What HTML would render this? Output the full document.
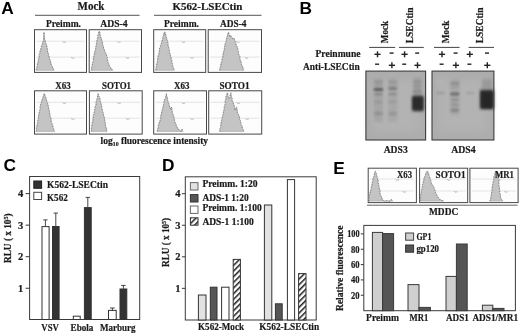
<!DOCTYPE html>
<html><head><meta charset="utf-8"><title>Figure</title>
<style>
html,body{margin:0;padding:0;background:#fff;}
body{width:520px;height:334px;overflow:hidden;font-family:"Liberation Serif",serif;}
svg{display:block;filter:blur(0.3px);}
.ls{font-family:"Liberation Serif",serif;stroke:#222;stroke-width:0.22px;}
.lsans{font-family:"Liberation Sans",sans-serif;}
</style></head><body>
<svg width="520" height="334" viewBox="0 0 520 334">
<defs>
<pattern id="hatch" width="4" height="4" patternUnits="userSpaceOnUse" patternTransform="rotate(-45)">
<rect width="4" height="4" fill="#fff"/><rect width="4" height="1.5" fill="#1c1c1c"/>
</pattern>
<filter id="b1" x="-50%" y="-50%" width="200%" height="200%"><feGaussianBlur stdDeviation="1.1"/></filter>
<filter id="b2" x="-50%" y="-50%" width="200%" height="200%"><feGaussianBlur stdDeviation="1.6"/></filter>
<filter id="b4" x="-50%" y="-50%" width="200%" height="200%"><feGaussianBlur stdDeviation="5"/></filter>
<filter id="b3" x="-50%" y="-50%" width="200%" height="200%"><feGaussianBlur stdDeviation="0.8"/></filter>
</defs>
<rect width="520" height="334" fill="#fff"/>

<!-- Panel A -->
<text class="lsans" x="1.2" y="14.2" font-size="17.3" font-weight="bold" text-anchor="start" fill="#000">A</text>
<text class="ls" x="77.6" y="9.6" font-size="11.5" font-weight="bold" text-anchor="start" fill="#1a1a1a" textLength="26.8" lengthAdjust="spacingAndGlyphs">Mock</text>
<line x1="35" y1="15.3" x2="139.6" y2="15.3" stroke="#555" stroke-width="1"/>
<text class="ls" x="172.4" y="9.6" font-size="11.2" font-weight="bold" text-anchor="start" fill="#1a1a1a" textLength="70" lengthAdjust="spacingAndGlyphs">K562-LSECtin</text>
<line x1="154" y1="15.3" x2="261.5" y2="15.3" stroke="#555" stroke-width="1"/>
<text class="ls" x="46" y="27" font-size="10.5" font-weight="bold" text-anchor="start" fill="#1a1a1a" textLength="35" lengthAdjust="spacingAndGlyphs">Preimm.</text>
<text class="ls" x="100.2" y="27" font-size="10.5" font-weight="bold" text-anchor="start" fill="#1a1a1a" textLength="27.4" lengthAdjust="spacingAndGlyphs">ADS-4</text>
<text class="ls" x="164" y="27" font-size="10.5" font-weight="bold" text-anchor="start" fill="#1a1a1a" textLength="35" lengthAdjust="spacingAndGlyphs">Preimm.</text>
<text class="ls" x="220" y="27" font-size="10.5" font-weight="bold" text-anchor="start" fill="#1a1a1a" textLength="26.5" lengthAdjust="spacingAndGlyphs">ADS-4</text>
<text class="ls" x="55.2" y="89" font-size="10.5" font-weight="bold" text-anchor="start" fill="#1a1a1a" textLength="15.5" lengthAdjust="spacingAndGlyphs">X63</text>
<text class="ls" x="102" y="89" font-size="10.5" font-weight="bold" text-anchor="start" fill="#1a1a1a" textLength="29" lengthAdjust="spacingAndGlyphs">SOTO1</text>
<text class="ls" x="174" y="89" font-size="10.5" font-weight="bold" text-anchor="start" fill="#1a1a1a" textLength="15.5" lengthAdjust="spacingAndGlyphs">X63</text>
<text class="ls" x="219.5" y="89" font-size="10.5" font-weight="bold" text-anchor="start" fill="#1a1a1a" textLength="30" lengthAdjust="spacingAndGlyphs">SOTO1</text>
<rect x="34.5" y="29.7" width="52" height="42.7" fill="#fdfdfd" stroke="#484848" stroke-width="1"/>
<line x1="36.5" y1="41.2" x2="84.5" y2="41.2" stroke="#dedede" stroke-width="0.8"/>
<line x1="36.5" y1="57.099999999999994" x2="84.5" y2="57.099999999999994" stroke="#dedede" stroke-width="0.8"/>
<path d="M62.49999999999999,41.400000000000006 l1.2,1 l1.2,-0.3 l1,0" fill="none" stroke="#b0b0b0" stroke-width="0.9"/>
<path d="M71.10000000000001,57.3 l1.2,1 l1.2,-0.3 l1,0" fill="none" stroke="#b0b0b0" stroke-width="0.9"/>
<polygon points="36.2,70.3 36.21,69.61 36.87,67.88 36.95,67.02 37.2,66.0 37.49,65.38 37.31,63.61 37.99,63.13 38.13,61.72 38.11,61.58 38.15,60.89 38.79,58.95 38.4,58.58 38.9,57.6 39.4,56.51 39.13,55.59 39.22,54.41 39.7,53.76 39.77,52.5 39.97,51.8 40.23,50.35 40.8,49.98 40.88,48.61 41.0,48.0 41.58,47.53 41.25,46.08 41.9,45.63 42.29,44.45 42.47,43.85 42.5,42.8 42.74,41.83 43.49,41.05 43.6,39.6 43.65,38.77 43.39,37.47 43.95,36.73 43.58,35.95 43.98,35.17 43.82,33.98 43.96,33.43 44.0,32.2 44.09,33.01 44.14,33.53 43.92,35.2 44.62,36.0 44.3,36.46 44.45,38.28 44.7,38.72 44.6,39.6 45.2,40.37 45.34,42.23 45.7,42.8 46.01,43.8 46.07,44.93 46.78,45.38 46.93,47.31 47.0,48.0 47.45,49.16 47.6,49.82 47.64,50.62 47.51,52.01 48.05,52.17 48.2,53.4 48.45,54.28 48.59,55.03 48.95,56.24 49.25,56.95 49.1,57.6 49.44,58.89 49.9,59.7 50.42,61.03 50.66,62.05 50.59,63.08 51.15,63.24 51.0,64.17 51.6,65.7 52.29,66.34 52.38,67.68 53.06,67.99 53.46,69.41 54.2,70.3" fill="#c4c4c4" stroke="#a2a2a2" stroke-width="0.6" stroke-linejoin="round"/>
<polyline points="36.2,70.3 36.21,69.61 36.87,67.88 36.95,67.02 37.2,66.0 37.49,65.38 37.31,63.61 37.99,63.13 38.13,61.72 38.11,61.58 38.15,60.89 38.79,58.95 38.4,58.58 38.9,57.6 39.4,56.51 39.13,55.59 39.22,54.41 39.7,53.76 39.77,52.5 39.97,51.8 40.23,50.35 40.8,49.98 40.88,48.61 41.0,48.0 41.58,47.53 41.25,46.08 41.9,45.63 42.29,44.45 42.47,43.85 42.5,42.8 42.74,41.83 43.49,41.05 43.6,39.6 43.65,38.77 43.39,37.47 43.95,36.73 43.58,35.95 43.98,35.17 43.82,33.98 43.96,33.43 44.0,32.2 44.09,33.01 44.14,33.53 43.92,35.2 44.62,36.0 44.3,36.46 44.45,38.28 44.7,38.72 44.6,39.6 45.2,40.37 45.34,42.23 45.7,42.8 46.01,43.8 46.07,44.93 46.78,45.38 46.93,47.31 47.0,48.0 47.45,49.16 47.6,49.82 47.64,50.62 47.51,52.01 48.05,52.17 48.2,53.4 48.45,54.28 48.59,55.03 48.95,56.24 49.25,56.95 49.1,57.6 49.44,58.89 49.9,59.7 50.42,61.03 50.66,62.05 50.59,63.08 51.15,63.24 51.0,64.17 51.6,65.7 52.29,66.34 52.38,67.68 53.06,67.99 53.46,69.41 54.2,70.3" fill="none" stroke="#6e6e6e" stroke-width="0.7" stroke-dasharray="1.3 1.5" stroke-linejoin="round"/>
<rect x="89.2" y="29.7" width="52.3" height="42.7" fill="#fdfdfd" stroke="#484848" stroke-width="1"/>
<line x1="91.2" y1="41.2" x2="139.5" y2="41.2" stroke="#dedede" stroke-width="0.8"/>
<line x1="91.2" y1="57.099999999999994" x2="139.5" y2="57.099999999999994" stroke="#dedede" stroke-width="0.8"/>
<path d="M117.20000000000002,41.400000000000006 l1.2,1 l1.2,-0.3 l1,0" fill="none" stroke="#b0b0b0" stroke-width="0.9"/>
<path d="M125.80000000000001,57.3 l1.2,1 l1.2,-0.3 l1,0" fill="none" stroke="#b0b0b0" stroke-width="0.9"/>
<polygon points="91.2,70.3 91.7,69.73 91.31,67.72 92.02,67.38 92.11,65.85 92.2,65.0 92.46,64.18 92.63,62.76 92.72,62.08 93.1,61.81 93.44,60.38 93.3,59.15 93.22,57.95 93.69,57.33 93.9,56.6 94.01,56.07 94.3,54.75 94.3,53.2 94.54,52.36 94.86,52.35 95.16,50.49 95.49,50.21 95.57,49.37 95.78,48.28 95.8,47.0 95.87,46.6 96.44,44.76 96.47,44.44 96.44,43.3 96.63,42.8 96.8,41.76 96.87,40.89 97.4,39.49 97.3,38.6 97.56,38.08 97.88,36.62 97.77,35.46 98.3,34.3 98.65,33.43 98.6,32.7 99.2,31.2 99.75,32.04 100.05,33.53 100.03,34.37 100.3,35.4 100.63,36.38 100.64,36.85 101.01,38.53 101.31,38.47 101.68,40.07 101.7,40.7 102.21,41.26 102.35,42.01 102.53,43.15 102.49,44.71 102.65,45.22 103.39,45.82 103.4,47.0 103.58,48.33 104.09,49.07 104.21,49.59 104.67,50.85 104.98,52.07 105.32,52.74 106.0,53.4 105.9,54.03 106.64,54.82 106.43,56.31 106.78,56.5 107.39,57.52 106.98,58.63 107.5,59.7 107.82,60.87 107.73,61.32 107.92,62.34 108.65,63.56 108.98,64.48 109.2,65.33 109.2,66.0 109.8,66.56 110.55,67.52 110.8,68.52 111.93,69.03 112.3,70.3" fill="#c4c4c4" stroke="#a2a2a2" stroke-width="0.6" stroke-linejoin="round"/>
<polyline points="91.2,70.3 91.7,69.73 91.31,67.72 92.02,67.38 92.11,65.85 92.2,65.0 92.46,64.18 92.63,62.76 92.72,62.08 93.1,61.81 93.44,60.38 93.3,59.15 93.22,57.95 93.69,57.33 93.9,56.6 94.01,56.07 94.3,54.75 94.3,53.2 94.54,52.36 94.86,52.35 95.16,50.49 95.49,50.21 95.57,49.37 95.78,48.28 95.8,47.0 95.87,46.6 96.44,44.76 96.47,44.44 96.44,43.3 96.63,42.8 96.8,41.76 96.87,40.89 97.4,39.49 97.3,38.6 97.56,38.08 97.88,36.62 97.77,35.46 98.3,34.3 98.65,33.43 98.6,32.7 99.2,31.2 99.75,32.04 100.05,33.53 100.03,34.37 100.3,35.4 100.63,36.38 100.64,36.85 101.01,38.53 101.31,38.47 101.68,40.07 101.7,40.7 102.21,41.26 102.35,42.01 102.53,43.15 102.49,44.71 102.65,45.22 103.39,45.82 103.4,47.0 103.58,48.33 104.09,49.07 104.21,49.59 104.67,50.85 104.98,52.07 105.32,52.74 106.0,53.4 105.9,54.03 106.64,54.82 106.43,56.31 106.78,56.5 107.39,57.52 106.98,58.63 107.5,59.7 107.82,60.87 107.73,61.32 107.92,62.34 108.65,63.56 108.98,64.48 109.2,65.33 109.2,66.0 109.8,66.56 110.55,67.52 110.8,68.52 111.93,69.03 112.3,70.3" fill="none" stroke="#6e6e6e" stroke-width="0.7" stroke-dasharray="1.3 1.5" stroke-linejoin="round"/>
<rect x="153.7" y="29.7" width="52" height="42.7" fill="#fdfdfd" stroke="#484848" stroke-width="1"/>
<line x1="155.7" y1="41.2" x2="203.7" y2="41.2" stroke="#dedede" stroke-width="0.8"/>
<line x1="155.7" y1="57.099999999999994" x2="203.7" y2="57.099999999999994" stroke="#dedede" stroke-width="0.8"/>
<path d="M181.7,41.400000000000006 l1.2,1 l1.2,-0.3 l1,0" fill="none" stroke="#b0b0b0" stroke-width="0.9"/>
<path d="M190.29999999999998,57.3 l1.2,1 l1.2,-0.3 l1,0" fill="none" stroke="#b0b0b0" stroke-width="0.9"/>
<polygon points="155.8,70.3 155.81,69.29 156.07,68.29 156.42,66.64 156.2,66.43 156.7,65.0 156.69,63.78 157.33,63.12 157.37,62.2 157.39,60.92 157.54,60.78 157.62,59.72 157.86,58.05 157.9,57.6 158.26,56.77 158.15,55.22 158.71,54.77 158.8,54.28 158.99,53.4 158.96,52.33 159.19,51.55 159.66,49.69 159.6,49.2 159.63,47.97 160.45,47.3 160.5,46.24 160.69,45.42 160.86,44.72 161.28,44.16 161.5,42.8 161.83,42.37 162.16,41.54 162.26,39.73 162.6,39.71 162.84,38.38 162.93,37.08 163.0,36.5 163.56,35.64 163.54,34.14 164.25,34.22 164.09,33.07 164.7,31.8 164.9,32.36 165.08,33.98 165.73,34.12 165.82,35.06 166.0,36.5 166.42,37.21 166.79,38.83 166.82,39.75 166.96,39.63 167.42,40.48 167.43,41.8 167.9,42.8 168.13,43.37 167.91,45.09 168.24,46.14 168.78,46.44 168.65,47.54 168.93,48.57 169.03,49.54 169.44,50.36 169.3,51.3 169.5,52.48 169.62,52.95 170.35,54.12 170.31,54.5 170.47,56.05 170.45,57.03 171.1,57.35 171.34,58.73 171.5,59.7 171.79,60.44 171.98,61.76 171.7,61.92 172.3,63.81 172.19,64.15 172.59,64.9 172.7,66.0 172.91,66.65 173.21,67.83 173.47,68.44 174.08,68.92 174.2,70.3" fill="#c4c4c4" stroke="#a2a2a2" stroke-width="0.6" stroke-linejoin="round"/>
<polyline points="155.8,70.3 155.81,69.29 156.07,68.29 156.42,66.64 156.2,66.43 156.7,65.0 156.69,63.78 157.33,63.12 157.37,62.2 157.39,60.92 157.54,60.78 157.62,59.72 157.86,58.05 157.9,57.6 158.26,56.77 158.15,55.22 158.71,54.77 158.8,54.28 158.99,53.4 158.96,52.33 159.19,51.55 159.66,49.69 159.6,49.2 159.63,47.97 160.45,47.3 160.5,46.24 160.69,45.42 160.86,44.72 161.28,44.16 161.5,42.8 161.83,42.37 162.16,41.54 162.26,39.73 162.6,39.71 162.84,38.38 162.93,37.08 163.0,36.5 163.56,35.64 163.54,34.14 164.25,34.22 164.09,33.07 164.7,31.8 164.9,32.36 165.08,33.98 165.73,34.12 165.82,35.06 166.0,36.5 166.42,37.21 166.79,38.83 166.82,39.75 166.96,39.63 167.42,40.48 167.43,41.8 167.9,42.8 168.13,43.37 167.91,45.09 168.24,46.14 168.78,46.44 168.65,47.54 168.93,48.57 169.03,49.54 169.44,50.36 169.3,51.3 169.5,52.48 169.62,52.95 170.35,54.12 170.31,54.5 170.47,56.05 170.45,57.03 171.1,57.35 171.34,58.73 171.5,59.7 171.79,60.44 171.98,61.76 171.7,61.92 172.3,63.81 172.19,64.15 172.59,64.9 172.7,66.0 172.91,66.65 173.21,67.83 173.47,68.44 174.08,68.92 174.2,70.3" fill="none" stroke="#6e6e6e" stroke-width="0.7" stroke-dasharray="1.3 1.5" stroke-linejoin="round"/>
<rect x="208.2" y="29.7" width="53.3" height="42.7" fill="#fdfdfd" stroke="#484848" stroke-width="1"/>
<line x1="210.2" y1="41.2" x2="259.5" y2="41.2" stroke="#dedede" stroke-width="0.8"/>
<line x1="210.2" y1="57.099999999999994" x2="259.5" y2="57.099999999999994" stroke="#dedede" stroke-width="0.8"/>
<path d="M236.2,41.400000000000006 l1.2,1 l1.2,-0.3 l1,0" fill="none" stroke="#b0b0b0" stroke-width="0.9"/>
<path d="M244.79999999999998,57.3 l1.2,1 l1.2,-0.3 l1,0" fill="none" stroke="#b0b0b0" stroke-width="0.9"/>
<polygon points="219.7,70.3 219.71,68.98 220.0,68.15 219.96,67.54 220.71,67.1 220.79,65.58 220.8,65.0 221.02,63.85 220.98,62.77 221.21,62.77 221.82,61.74 222.0,60.16 221.87,59.74 222.2,58.7 222.54,58.15 222.83,56.36 222.84,56.06 222.96,54.57 223.13,53.53 223.62,53.44 223.55,51.87 223.98,51.22 223.9,50.2 224.36,49.66 224.33,48.26 224.6,47.35 224.53,46.29 225.17,45.07 224.88,44.79 225.24,43.76 225.6,42.8 225.8,41.73 226.36,40.67 226.19,39.77 226.54,38.95 226.58,38.57 226.77,37.46 227.1,36.5 227.67,35.2 227.41,34.48 228.18,34.05 228.13,32.87 228.6,32.2 228.71,33.23 228.95,34.57 229.84,35.93 229.9,36.5 230.7,35.4 231.28,36.71 231.23,36.77 232.28,38.1 232.4,38.6 234.1,38.2 234.34,39.61 234.78,40.39 234.86,40.62 235.26,41.48 235.6,42.8 235.82,44.22 236.09,44.09 236.2,45.18 236.99,46.31 236.96,46.93 237.72,48.2 237.7,49.2 237.74,49.65 237.87,50.7 238.52,51.61 238.33,52.92 238.7,54.41 238.85,54.83 239.51,55.63 239.89,56.64 239.8,57.6 239.89,58.43 240.02,59.36 240.42,60.8 241.07,61.3 240.8,61.95 241.2,62.83 241.46,64.48 241.9,65.0 241.91,65.39 242.68,66.84 242.97,67.54 243.16,68.7 243.34,69.69 243.4,70.3" fill="#c4c4c4" stroke="#a2a2a2" stroke-width="0.6" stroke-linejoin="round"/>
<polyline points="219.7,70.3 219.71,68.98 220.0,68.15 219.96,67.54 220.71,67.1 220.79,65.58 220.8,65.0 221.02,63.85 220.98,62.77 221.21,62.77 221.82,61.74 222.0,60.16 221.87,59.74 222.2,58.7 222.54,58.15 222.83,56.36 222.84,56.06 222.96,54.57 223.13,53.53 223.62,53.44 223.55,51.87 223.98,51.22 223.9,50.2 224.36,49.66 224.33,48.26 224.6,47.35 224.53,46.29 225.17,45.07 224.88,44.79 225.24,43.76 225.6,42.8 225.8,41.73 226.36,40.67 226.19,39.77 226.54,38.95 226.58,38.57 226.77,37.46 227.1,36.5 227.67,35.2 227.41,34.48 228.18,34.05 228.13,32.87 228.6,32.2 228.71,33.23 228.95,34.57 229.84,35.93 229.9,36.5 230.7,35.4 231.28,36.71 231.23,36.77 232.28,38.1 232.4,38.6 234.1,38.2 234.34,39.61 234.78,40.39 234.86,40.62 235.26,41.48 235.6,42.8 235.82,44.22 236.09,44.09 236.2,45.18 236.99,46.31 236.96,46.93 237.72,48.2 237.7,49.2 237.74,49.65 237.87,50.7 238.52,51.61 238.33,52.92 238.7,54.41 238.85,54.83 239.51,55.63 239.89,56.64 239.8,57.6 239.89,58.43 240.02,59.36 240.42,60.8 241.07,61.3 240.8,61.95 241.2,62.83 241.46,64.48 241.9,65.0 241.91,65.39 242.68,66.84 242.97,67.54 243.16,68.7 243.34,69.69 243.4,70.3" fill="none" stroke="#6e6e6e" stroke-width="0.7" stroke-dasharray="1.3 1.5" stroke-linejoin="round"/>
<rect x="34.5" y="90.8" width="52" height="43.3" fill="#fdfdfd" stroke="#484848" stroke-width="1"/>
<line x1="36.5" y1="102.3" x2="84.5" y2="102.3" stroke="#dedede" stroke-width="0.8"/>
<line x1="36.5" y1="118.19999999999999" x2="84.5" y2="118.19999999999999" stroke="#dedede" stroke-width="0.8"/>
<path d="M62.49999999999999,102.5 l1.2,1 l1.2,-0.3 l1,0" fill="none" stroke="#b0b0b0" stroke-width="0.9"/>
<path d="M71.10000000000001,118.39999999999999 l1.2,1 l1.2,-0.3 l1,0" fill="none" stroke="#b0b0b0" stroke-width="0.9"/>
<polygon points="36.2,131.4 36.38,130.77 36.59,130.09 36.66,129.16 36.29,127.76 36.99,127.06 36.8,126.0 37.36,124.51 37.38,123.59 37.7,122.8 37.87,121.93 37.67,120.58 37.99,120.39 38.46,118.61 38.62,117.63 38.65,116.66 38.39,116.53 38.67,114.85 39.33,114.62 39.02,113.76 39.3,112.3 39.51,111.55 39.48,110.9 39.99,109.98 40.32,108.3 40.15,107.21 40.2,106.15 40.49,105.8 40.48,104.94 41.0,103.8 41.14,102.71 41.71,102.01 41.63,101.13 42.14,99.78 42.56,98.86 42.5,98.5 43.08,97.92 43.02,96.9 43.67,95.71 43.86,94.16 44.6,93.7 44.69,95.16 45.0,95.9 45.78,97.07 45.7,97.38 46.1,98.5 46.4,99.69 46.41,100.54 47.15,101.55 46.93,102.52 47.25,102.74 47.8,103.8 48.06,105.17 48.07,106.1 48.39,106.34 48.42,107.1 48.45,107.99 49.04,109.83 49.1,110.2 49.05,110.6 49.76,112.04 49.55,112.61 49.85,114.16 49.93,114.61 49.84,116.06 50.3,116.5 50.2,117.42 50.95,117.94 51.09,119.77 51.24,120.52 51.1,121.05 51.34,122.43 51.65,122.92 52.0,123.9 52.6,125.34 52.86,125.95 52.82,127.3 53.1,128.1 53.46,128.7 53.79,129.36 54.14,131.11 54.6,131.4" fill="#c4c4c4" stroke="#a2a2a2" stroke-width="0.6" stroke-linejoin="round"/>
<polyline points="36.2,131.4 36.38,130.77 36.59,130.09 36.66,129.16 36.29,127.76 36.99,127.06 36.8,126.0 37.36,124.51 37.38,123.59 37.7,122.8 37.87,121.93 37.67,120.58 37.99,120.39 38.46,118.61 38.62,117.63 38.65,116.66 38.39,116.53 38.67,114.85 39.33,114.62 39.02,113.76 39.3,112.3 39.51,111.55 39.48,110.9 39.99,109.98 40.32,108.3 40.15,107.21 40.2,106.15 40.49,105.8 40.48,104.94 41.0,103.8 41.14,102.71 41.71,102.01 41.63,101.13 42.14,99.78 42.56,98.86 42.5,98.5 43.08,97.92 43.02,96.9 43.67,95.71 43.86,94.16 44.6,93.7 44.69,95.16 45.0,95.9 45.78,97.07 45.7,97.38 46.1,98.5 46.4,99.69 46.41,100.54 47.15,101.55 46.93,102.52 47.25,102.74 47.8,103.8 48.06,105.17 48.07,106.1 48.39,106.34 48.42,107.1 48.45,107.99 49.04,109.83 49.1,110.2 49.05,110.6 49.76,112.04 49.55,112.61 49.85,114.16 49.93,114.61 49.84,116.06 50.3,116.5 50.2,117.42 50.95,117.94 51.09,119.77 51.24,120.52 51.1,121.05 51.34,122.43 51.65,122.92 52.0,123.9 52.6,125.34 52.86,125.95 52.82,127.3 53.1,128.1 53.46,128.7 53.79,129.36 54.14,131.11 54.6,131.4" fill="none" stroke="#6e6e6e" stroke-width="0.7" stroke-dasharray="1.3 1.5" stroke-linejoin="round"/>
<rect x="89.4" y="90.8" width="52.8" height="43.3" fill="#fdfdfd" stroke="#484848" stroke-width="1"/>
<line x1="91.4" y1="102.3" x2="140.2" y2="102.3" stroke="#dedede" stroke-width="0.8"/>
<line x1="91.4" y1="118.19999999999999" x2="140.2" y2="118.19999999999999" stroke="#dedede" stroke-width="0.8"/>
<path d="M117.4,102.5 l1.2,1 l1.2,-0.3 l1,0" fill="none" stroke="#b0b0b0" stroke-width="0.9"/>
<path d="M126.00000000000001,118.39999999999999 l1.2,1 l1.2,-0.3 l1,0" fill="none" stroke="#b0b0b0" stroke-width="0.9"/>
<polygon points="91.2,131.4 91.49,130.85 91.39,129.34 91.17,128.88 91.58,128.09 91.62,127.2 91.8,126.0 91.8,125.38 92.25,124.01 92.28,123.35 92.2,122.26 92.75,120.99 92.9,120.5 93.08,119.17 92.73,118.73 93.35,117.39 93.3,116.5 93.22,115.24 93.76,114.42 94.16,113.82 93.85,112.97 94.15,112.35 94.7,110.97 94.71,110.24 94.8,109.1 95.2,108.74 94.89,107.18 95.47,106.23 95.66,105.12 96.05,104.71 96.0,103.8 95.93,103.08 96.25,101.67 96.55,100.7 96.55,100.6 97.06,98.76 97.3,97.87 97.3,97.5 97.41,96.99 97.83,95.39 97.89,94.53 98.2,93.7 98.2,95.2 98.41,95.52 99.11,96.44 99.2,97.5 99.79,98.12 100.06,99.73 100.13,100.63 100.25,101.46 100.75,102.02 100.81,103.13 101.1,103.8 101.23,104.26 101.63,105.37 101.65,106.86 101.63,106.93 101.78,108.47 102.12,109.02 102.4,110.2 102.58,111.57 102.67,111.9 103.29,113.02 103.1,113.77 103.46,114.31 103.6,115.39 103.9,116.5 104.28,117.23 104.36,118.87 104.7,119.14 104.67,120.0 104.71,121.11 105.14,122.53 104.99,122.43 105.3,123.9 105.48,124.35 105.41,126.08 105.68,126.95 106.06,128.13 106.6,128.11 106.37,130.02 106.86,130.38 107.0,131.4" fill="#c4c4c4" stroke="#a2a2a2" stroke-width="0.6" stroke-linejoin="round"/>
<polyline points="91.2,131.4 91.49,130.85 91.39,129.34 91.17,128.88 91.58,128.09 91.62,127.2 91.8,126.0 91.8,125.38 92.25,124.01 92.28,123.35 92.2,122.26 92.75,120.99 92.9,120.5 93.08,119.17 92.73,118.73 93.35,117.39 93.3,116.5 93.22,115.24 93.76,114.42 94.16,113.82 93.85,112.97 94.15,112.35 94.7,110.97 94.71,110.24 94.8,109.1 95.2,108.74 94.89,107.18 95.47,106.23 95.66,105.12 96.05,104.71 96.0,103.8 95.93,103.08 96.25,101.67 96.55,100.7 96.55,100.6 97.06,98.76 97.3,97.87 97.3,97.5 97.41,96.99 97.83,95.39 97.89,94.53 98.2,93.7 98.2,95.2 98.41,95.52 99.11,96.44 99.2,97.5 99.79,98.12 100.06,99.73 100.13,100.63 100.25,101.46 100.75,102.02 100.81,103.13 101.1,103.8 101.23,104.26 101.63,105.37 101.65,106.86 101.63,106.93 101.78,108.47 102.12,109.02 102.4,110.2 102.58,111.57 102.67,111.9 103.29,113.02 103.1,113.77 103.46,114.31 103.6,115.39 103.9,116.5 104.28,117.23 104.36,118.87 104.7,119.14 104.67,120.0 104.71,121.11 105.14,122.53 104.99,122.43 105.3,123.9 105.48,124.35 105.41,126.08 105.68,126.95 106.06,128.13 106.6,128.11 106.37,130.02 106.86,130.38 107.0,131.4" fill="none" stroke="#6e6e6e" stroke-width="0.7" stroke-dasharray="1.3 1.5" stroke-linejoin="round"/>
<rect x="153.7" y="90.8" width="52.8" height="43.3" fill="#fdfdfd" stroke="#484848" stroke-width="1"/>
<line x1="155.7" y1="102.3" x2="204.5" y2="102.3" stroke="#dedede" stroke-width="0.8"/>
<line x1="155.7" y1="118.19999999999999" x2="204.5" y2="118.19999999999999" stroke="#dedede" stroke-width="0.8"/>
<path d="M181.7,102.5 l1.2,1 l1.2,-0.3 l1,0" fill="none" stroke="#b0b0b0" stroke-width="0.9"/>
<path d="M190.29999999999998,118.39999999999999 l1.2,1 l1.2,-0.3 l1,0" fill="none" stroke="#b0b0b0" stroke-width="0.9"/>
<polygon points="157.3,131.4 157.43,129.94 157.9,128.78 158.07,128.03 158.3,127.1 158.25,126.19 158.48,125.2 158.74,123.91 159.22,123.8 159.27,122.22 159.84,122.11 160.0,120.7 160.24,119.66 160.69,118.35 160.8,117.69 160.52,116.58 160.81,116.42 160.91,115.24 161.4,114.08 161.5,113.3 161.75,111.92 161.64,111.18 162.26,110.52 162.23,109.79 162.54,108.58 162.98,108.12 163.0,107.0 163.04,106.16 163.44,105.56 163.79,103.99 164.17,102.88 164.01,102.66 164.05,101.44 164.18,100.71 164.7,99.6 165.16,98.7 165.51,97.43 165.68,96.75 165.89,95.62 166.34,95.17 166.4,93.7 166.6,94.86 166.54,95.89 167.15,97.19 167.48,97.4 167.41,98.8 167.7,99.6 167.68,100.61 168.08,101.28 168.31,103.05 168.9,103.8 168.94,104.41 169.39,105.98 169.47,106.39 170.07,107.76 170.53,108.62 170.6,109.1 170.9,107.96 171.5,107.0 171.58,108.32 172.14,108.42 171.8,109.41 172.01,110.58 172.42,111.24 172.2,112.31 172.7,113.3 172.83,114.26 173.43,115.28 173.36,116.08 173.68,116.34 174.05,118.02 174.0,118.6 174.57,119.98 174.58,120.59 174.71,121.9 175.3,122.8 175.35,123.18 175.79,124.15 176.21,124.89 176.33,125.86 177.0,127.1 177.26,127.75 177.74,129.11 178.65,129.11 179.1,130.3 179.99,130.68 181.2,131.4 181.51,129.89 182.0,129.2 182.68,130.84 182.9,131.4" fill="#c4c4c4" stroke="#a2a2a2" stroke-width="0.6" stroke-linejoin="round"/>
<polyline points="157.3,131.4 157.43,129.94 157.9,128.78 158.07,128.03 158.3,127.1 158.25,126.19 158.48,125.2 158.74,123.91 159.22,123.8 159.27,122.22 159.84,122.11 160.0,120.7 160.24,119.66 160.69,118.35 160.8,117.69 160.52,116.58 160.81,116.42 160.91,115.24 161.4,114.08 161.5,113.3 161.75,111.92 161.64,111.18 162.26,110.52 162.23,109.79 162.54,108.58 162.98,108.12 163.0,107.0 163.04,106.16 163.44,105.56 163.79,103.99 164.17,102.88 164.01,102.66 164.05,101.44 164.18,100.71 164.7,99.6 165.16,98.7 165.51,97.43 165.68,96.75 165.89,95.62 166.34,95.17 166.4,93.7 166.6,94.86 166.54,95.89 167.15,97.19 167.48,97.4 167.41,98.8 167.7,99.6 167.68,100.61 168.08,101.28 168.31,103.05 168.9,103.8 168.94,104.41 169.39,105.98 169.47,106.39 170.07,107.76 170.53,108.62 170.6,109.1 170.9,107.96 171.5,107.0 171.58,108.32 172.14,108.42 171.8,109.41 172.01,110.58 172.42,111.24 172.2,112.31 172.7,113.3 172.83,114.26 173.43,115.28 173.36,116.08 173.68,116.34 174.05,118.02 174.0,118.6 174.57,119.98 174.58,120.59 174.71,121.9 175.3,122.8 175.35,123.18 175.79,124.15 176.21,124.89 176.33,125.86 177.0,127.1 177.26,127.75 177.74,129.11 178.65,129.11 179.1,130.3 179.99,130.68 181.2,131.4 181.51,129.89 182.0,129.2 182.68,130.84 182.9,131.4" fill="none" stroke="#6e6e6e" stroke-width="0.7" stroke-dasharray="1.3 1.5" stroke-linejoin="round"/>
<rect x="208.7" y="90.8" width="53" height="43.3" fill="#fdfdfd" stroke="#484848" stroke-width="1"/>
<line x1="210.7" y1="102.3" x2="259.7" y2="102.3" stroke="#dedede" stroke-width="0.8"/>
<line x1="210.7" y1="118.19999999999999" x2="259.7" y2="118.19999999999999" stroke="#dedede" stroke-width="0.8"/>
<path d="M236.7,102.5 l1.2,1 l1.2,-0.3 l1,0" fill="none" stroke="#b0b0b0" stroke-width="0.9"/>
<path d="M245.29999999999998,118.39999999999999 l1.2,1 l1.2,-0.3 l1,0" fill="none" stroke="#b0b0b0" stroke-width="0.9"/>
<polygon points="219.7,131.4 219.7,131.01 219.82,129.83 219.98,128.42 220.76,127.48 220.71,126.86 220.8,126.0 220.94,125.07 220.95,124.51 221.05,122.93 221.18,122.04 221.61,121.82 221.77,120.03 221.87,120.07 222.2,118.6 222.1,117.8 222.5,116.91 222.66,116.01 222.95,115.03 223.41,114.02 223.1,112.52 223.82,112.05 223.51,111.62 223.9,110.2 224.11,109.53 224.48,108.11 224.29,107.84 224.31,106.79 224.45,105.78 225.01,105.14 225.26,103.73 225.2,102.8 225.16,101.48 225.54,100.94 225.4,100.43 225.85,99.27 225.83,97.83 225.85,97.0 226.18,96.15 226.5,95.3 226.82,94.42 227.3,92.8 227.78,93.39 227.66,94.33 228.06,96.17 227.97,96.89 228.25,97.01 228.6,98.5 229.9,97.5 230.27,96.39 230.08,95.55 230.32,94.58 230.66,93.65 230.9,92.8 231.12,93.54 230.95,94.29 231.11,95.74 231.44,97.02 231.69,97.89 232.16,98.15 232.0,99.6 232.03,100.25 232.62,101.78 233.21,102.59 233.4,103.8 233.92,104.17 234.05,105.31 234.29,106.03 234.56,107.74 234.8,108.46 234.47,109.8 234.9,110.2 235.29,108.94 235.82,108.6 236.16,107.42 236.6,107.0 236.51,107.99 236.88,108.39 237.03,109.95 237.37,110.57 237.32,111.35 237.36,112.07 237.7,113.3 238.16,113.94 238.85,115.66 239.2,116.5 239.5,116.87 239.57,118.23 239.62,119.71 240.28,120.1 240.48,120.67 240.39,121.93 240.8,122.8 241.24,123.85 241.04,124.69 241.92,125.72 242.22,126.86 242.03,126.99 242.5,128.1 242.91,129.45 243.16,130.24 243.86,130.59 244.0,131.4" fill="#c4c4c4" stroke="#a2a2a2" stroke-width="0.6" stroke-linejoin="round"/>
<polyline points="219.7,131.4 219.7,131.01 219.82,129.83 219.98,128.42 220.76,127.48 220.71,126.86 220.8,126.0 220.94,125.07 220.95,124.51 221.05,122.93 221.18,122.04 221.61,121.82 221.77,120.03 221.87,120.07 222.2,118.6 222.1,117.8 222.5,116.91 222.66,116.01 222.95,115.03 223.41,114.02 223.1,112.52 223.82,112.05 223.51,111.62 223.9,110.2 224.11,109.53 224.48,108.11 224.29,107.84 224.31,106.79 224.45,105.78 225.01,105.14 225.26,103.73 225.2,102.8 225.16,101.48 225.54,100.94 225.4,100.43 225.85,99.27 225.83,97.83 225.85,97.0 226.18,96.15 226.5,95.3 226.82,94.42 227.3,92.8 227.78,93.39 227.66,94.33 228.06,96.17 227.97,96.89 228.25,97.01 228.6,98.5 229.9,97.5 230.27,96.39 230.08,95.55 230.32,94.58 230.66,93.65 230.9,92.8 231.12,93.54 230.95,94.29 231.11,95.74 231.44,97.02 231.69,97.89 232.16,98.15 232.0,99.6 232.03,100.25 232.62,101.78 233.21,102.59 233.4,103.8 233.92,104.17 234.05,105.31 234.29,106.03 234.56,107.74 234.8,108.46 234.47,109.8 234.9,110.2 235.29,108.94 235.82,108.6 236.16,107.42 236.6,107.0 236.51,107.99 236.88,108.39 237.03,109.95 237.37,110.57 237.32,111.35 237.36,112.07 237.7,113.3 238.16,113.94 238.85,115.66 239.2,116.5 239.5,116.87 239.57,118.23 239.62,119.71 240.28,120.1 240.48,120.67 240.39,121.93 240.8,122.8 241.24,123.85 241.04,124.69 241.92,125.72 242.22,126.86 242.03,126.99 242.5,128.1 242.91,129.45 243.16,130.24 243.86,130.59 244.0,131.4" fill="none" stroke="#6e6e6e" stroke-width="0.7" stroke-dasharray="1.3 1.5" stroke-linejoin="round"/>
<text class="ls" x="100.6" y="143.5" font-size="10.5" font-weight="bold" fill="#1a1a1a" textLength="107.5" lengthAdjust="spacingAndGlyphs">log<tspan font-size="6.5" dy="2.2">10</tspan><tspan dy="-2.2"> fluorescence intensity</tspan></text>
<!-- Panel B -->
<text class="lsans" x="299.4" y="14.2" font-size="17.3" font-weight="bold" text-anchor="start" fill="#000">B</text>
<text class="ls" transform="translate(388.3,32.1) rotate(-90)" font-size="10.5" font-weight="bold" text-anchor="middle" fill="#1a1a1a" textLength="22.200000000000003" lengthAdjust="spacingAndGlyphs">Mock</text>
<text class="ls" transform="translate(413.3,25.35) rotate(-90)" font-size="10.5" font-weight="bold" text-anchor="middle" fill="#1a1a1a" textLength="35.7" lengthAdjust="spacingAndGlyphs">LSECtin</text>
<text class="ls" transform="translate(449,31.900000000000002) rotate(-90)" font-size="10.5" font-weight="bold" text-anchor="middle" fill="#1a1a1a" textLength="22.6" lengthAdjust="spacingAndGlyphs">Mock</text>
<text class="ls" transform="translate(482.6,25.35) rotate(-90)" font-size="10.5" font-weight="bold" text-anchor="middle" fill="#1a1a1a" textLength="35.7" lengthAdjust="spacingAndGlyphs">LSECtin</text>
<line x1="369.2" y1="47.4" x2="395.2" y2="47.4" stroke="#444" stroke-width="1"/>
<line x1="399" y1="47.4" x2="423.8" y2="47.4" stroke="#444" stroke-width="1"/>
<line x1="434" y1="47.4" x2="459.6" y2="47.4" stroke="#444" stroke-width="1"/>
<line x1="468.6" y1="47.4" x2="494" y2="47.4" stroke="#444" stroke-width="1"/>
<text class="ls" x="315.5" y="57.1" font-size="11" font-weight="bold" text-anchor="start" fill="#1a1a1a" textLength="45" lengthAdjust="spacingAndGlyphs">Preinmune</text>
<text class="ls" x="303" y="70.2" font-size="11" font-weight="bold" text-anchor="start" fill="#1a1a1a" textLength="56.7" lengthAdjust="spacingAndGlyphs">Anti-LSECtin</text>
<line x1="374.4" y1="54.3" x2="380.6" y2="54.3" stroke="#222" stroke-width="1.4"/>
<line x1="377.5" y1="51.3" x2="377.5" y2="57.3" stroke="#222" stroke-width="1.4"/>
<line x1="375.1" y1="64.2" x2="379.1" y2="64.2" stroke="#222" stroke-width="1.4"/>
<line x1="389.6" y1="53.1" x2="393.6" y2="53.1" stroke="#222" stroke-width="1.4"/>
<line x1="388.8" y1="65.3" x2="395.00000000000006" y2="65.3" stroke="#222" stroke-width="1.4"/>
<line x1="391.90000000000003" y1="62.3" x2="391.90000000000003" y2="68.3" stroke="#222" stroke-width="1.4"/>
<line x1="401.5" y1="54.3" x2="407.70000000000005" y2="54.3" stroke="#222" stroke-width="1.4"/>
<line x1="404.6" y1="51.3" x2="404.6" y2="57.3" stroke="#222" stroke-width="1.4"/>
<line x1="402.20000000000005" y1="64.2" x2="406.20000000000005" y2="64.2" stroke="#222" stroke-width="1.4"/>
<line x1="415.2" y1="53.1" x2="419.2" y2="53.1" stroke="#222" stroke-width="1.4"/>
<line x1="414.4" y1="65.3" x2="420.6" y2="65.3" stroke="#222" stroke-width="1.4"/>
<line x1="417.5" y1="62.3" x2="417.5" y2="68.3" stroke="#222" stroke-width="1.4"/>
<line x1="438.9" y1="54.3" x2="445.1" y2="54.3" stroke="#222" stroke-width="1.4"/>
<line x1="442" y1="51.3" x2="442" y2="57.3" stroke="#222" stroke-width="1.4"/>
<line x1="439.6" y1="64.2" x2="443.6" y2="64.2" stroke="#222" stroke-width="1.4"/>
<line x1="453.6" y1="53.1" x2="457.6" y2="53.1" stroke="#222" stroke-width="1.4"/>
<line x1="452.8" y1="65.3" x2="459.00000000000006" y2="65.3" stroke="#222" stroke-width="1.4"/>
<line x1="455.90000000000003" y1="62.3" x2="455.90000000000003" y2="68.3" stroke="#222" stroke-width="1.4"/>
<line x1="466.7" y1="54.3" x2="472.90000000000003" y2="54.3" stroke="#222" stroke-width="1.4"/>
<line x1="469.8" y1="51.3" x2="469.8" y2="57.3" stroke="#222" stroke-width="1.4"/>
<line x1="467.40000000000003" y1="64.2" x2="471.40000000000003" y2="64.2" stroke="#222" stroke-width="1.4"/>
<line x1="485.0" y1="53.1" x2="489.0" y2="53.1" stroke="#222" stroke-width="1.4"/>
<line x1="484.2" y1="65.3" x2="490.40000000000003" y2="65.3" stroke="#222" stroke-width="1.4"/>
<line x1="487.3" y1="62.3" x2="487.3" y2="68.3" stroke="#222" stroke-width="1.4"/>
<rect x="365.9" y="71.1" width="59.7" height="68.9" fill="#acacac"/>
<rect x="371.9" y="79.1" width="47.7" height="52.900000000000006" fill="#b3b3b3" filter="url(#b4)"/>
<rect x="432.0" y="71.1" width="61.9" height="68.9" fill="#acacac"/>
<rect x="438.0" y="79.1" width="49.9" height="52.900000000000006" fill="#b3b3b3" filter="url(#b4)"/>
<g>
<rect x="373.9" y="78.0" width="9" height="44" rx="1" fill="#9c9c9c" opacity="0.6" filter="url(#b2)"/>
<rect x="374.15" y="80.8" width="8.5" height="2.4" rx="1" fill="#8a8a8a" opacity="0.75" filter="url(#b1)"/>
<rect x="374.15" y="84.7" width="8.5" height="2.0" rx="1" fill="#8f8f8f" opacity="0.65" filter="url(#b1)"/>
<rect x="373.65" y="88.35" width="9.5" height="2.3" rx="1" fill="#505050" opacity="0.95" filter="url(#b1)"/>
<rect x="374.15" y="92.8" width="8.5" height="2.4" rx="1" fill="#7c7c7c" opacity="0.7" filter="url(#b1)"/>
<rect x="374.15" y="100.7" width="8.5" height="2.6" rx="1" fill="#8c8c8c" opacity="0.55" filter="url(#b1)"/>
<rect x="374.4" y="111.8" width="8" height="3.4" rx="1" fill="#848484" opacity="0.6" filter="url(#b1)"/>
<rect x="388.2" y="78.0" width="9" height="44" rx="1" fill="#9c9c9c" opacity="0.51" filter="url(#b2)"/>
<rect x="388.45" y="80.8" width="8.5" height="2.4" rx="1" fill="#8a8a8a" opacity="0.6375" filter="url(#b1)"/>
<rect x="388.45" y="84.7" width="8.5" height="2.0" rx="1" fill="#8f8f8f" opacity="0.5525" filter="url(#b1)"/>
<rect x="388.45" y="87.55" width="8.5" height="2.3" rx="1" fill="#666" opacity="0.8075" filter="url(#b1)"/>
<rect x="388.45" y="92.8" width="8.5" height="2.4" rx="1" fill="#7c7c7c" opacity="0.595" filter="url(#b1)"/>
<rect x="388.45" y="100.7" width="8.5" height="2.6" rx="1" fill="#8c8c8c" opacity="0.4675" filter="url(#b1)"/>
<rect x="388.7" y="111.8" width="8" height="3.4" rx="1" fill="#848484" opacity="0.51" filter="url(#b1)"/>
<rect x="413.4" y="78.0" width="8" height="24" rx="1" fill="#969696" opacity="0.8" filter="url(#b2)"/>
<rect x="413.4" y="80.9" width="8" height="2.2" rx="1" fill="#8a8a8a" opacity="0.6" filter="url(#b1)"/>
<rect x="413.4" y="84.9" width="8" height="2.2" rx="1" fill="#8a8a8a" opacity="0.5" filter="url(#b1)"/>
<rect x="413.15" y="90.2" width="8.5" height="2.6" rx="1" fill="#808080" opacity="0.6" filter="url(#b1)"/>
<rect x="412.0" y="95.65" width="11.6" height="15.5" rx="1" fill="#3a3a3a" opacity="1" filter="url(#b2)"/>
<rect x="413.0" y="97.6" width="9.6" height="12" rx="1" fill="#2c2c2c" opacity="1" filter="url(#b1)"/>
<rect x="436.0" y="79.0" width="9" height="6" rx="1" fill="#b6b6b6" opacity="0.6" filter="url(#b2)"/>
<rect x="436.25" y="91.7" width="8.5" height="2.6" rx="1" fill="#929292" opacity="0.7" filter="url(#b1)"/>
<rect x="450.3" y="79.0" width="9" height="36" rx="1" fill="#9c9c9c" opacity="0.55" filter="url(#b2)"/>
<rect x="450.55" y="82.1" width="8.5" height="2.8" rx="1" fill="#888" opacity="0.8" filter="url(#b1)"/>
<rect x="450.55" y="86.0" width="8.5" height="2.0" rx="1" fill="#969696" opacity="0.65" filter="url(#b1)"/>
<rect x="450.3" y="92.5" width="9" height="3.0" rx="1" fill="#686868" opacity="0.9" filter="url(#b1)"/>
<rect x="450.8" y="98.6" width="8" height="2.4" rx="1" fill="#888" opacity="0.7" filter="url(#b1)"/>
<rect x="450.8" y="103.39999999999999" width="8" height="2.4" rx="1" fill="#8a8a8a" opacity="0.65" filter="url(#b1)"/>
<rect x="450.8" y="108.5" width="8" height="3.4" rx="1" fill="#7e7e7e" opacity="0.75" filter="url(#b1)"/>
<rect x="466.0" y="79.5" width="8" height="5" rx="1" fill="#b4b4b4" opacity="0.5" filter="url(#b2)"/>
<rect x="466.0" y="91.7" width="8" height="2.6" rx="1" fill="#989898" opacity="0.65" filter="url(#b1)"/>
<rect x="481.8" y="79.0" width="10" height="10" rx="1" fill="#949494" opacity="0.8" filter="url(#b2)"/>
<rect x="480.09999999999997" y="89.85" width="13.6" height="19.5" rx="1" fill="#363636" opacity="1" filter="url(#b2)"/>
<rect x="481.09999999999997" y="91.8" width="11.6" height="16" rx="1" fill="#282828" opacity="1" filter="url(#b1)"/>
</g>
<rect x="365.9" y="71.1" width="59.7" height="68.9" fill="none" stroke="#3c3c3c" stroke-width="1.1"/>
<rect x="432.0" y="71.1" width="61.9" height="68.9" fill="none" stroke="#3c3c3c" stroke-width="1.1"/>
<text class="ls" x="383.7" y="152.8" font-size="10.5" font-weight="bold" text-anchor="start" fill="#1a1a1a" textLength="24" lengthAdjust="spacingAndGlyphs">ADS3</text>
<text class="ls" x="451.2" y="152.8" font-size="10.5" font-weight="bold" text-anchor="start" fill="#1a1a1a" textLength="24.4" lengthAdjust="spacingAndGlyphs">ADS4</text>
<!-- Panel C -->
<text class="lsans" x="3.6" y="171.2" font-size="17.3" font-weight="bold" text-anchor="start" fill="#000">C</text>
<rect x="29.6" y="176.5" width="110.1" height="143.0" fill="#fff" stroke="#3a3a3a" stroke-width="1"/>
<line x1="25.6" y1="288.25" x2="29.6" y2="288.25" stroke="#3a3a3a" stroke-width="1"/>
<text class="ls" x="23.2" y="291.75" font-size="10.5" font-weight="bold" text-anchor="end" fill="#1a1a1a">1</text>
<line x1="25.6" y1="256.7" x2="29.6" y2="256.7" stroke="#3a3a3a" stroke-width="1"/>
<text class="ls" x="23.2" y="260.2" font-size="10.5" font-weight="bold" text-anchor="end" fill="#1a1a1a">2</text>
<line x1="25.6" y1="225.15" x2="29.6" y2="225.15" stroke="#3a3a3a" stroke-width="1"/>
<text class="ls" x="23.2" y="228.65" font-size="10.5" font-weight="bold" text-anchor="end" fill="#1a1a1a">3</text>
<line x1="25.6" y1="193.60000000000002" x2="29.6" y2="193.60000000000002" stroke="#3a3a3a" stroke-width="1"/>
<text class="ls" x="23.2" y="197.10000000000002" font-size="10.5" font-weight="bold" text-anchor="end" fill="#1a1a1a">4</text>
<text class="ls" transform="translate(11.0,238.2) rotate(-90)" font-size="10" font-weight="bold" text-anchor="middle" fill="#1a1a1a" textLength="49.6" lengthAdjust="spacingAndGlyphs">RLU ( x 10<tspan font-size="6.5" dy="-3.4">5</tspan><tspan dy="3.4">)</tspan></text>
<line x1="45.4" y1="219.9" x2="45.4" y2="226.6" stroke="#333" stroke-width="0.9"/>
<line x1="43.199999999999996" y1="219.9" x2="47.6" y2="219.9" stroke="#333" stroke-width="0.9"/>
<rect x="42" y="226.6" width="7.100000000000001" height="92.9" fill="#fff" stroke="#333" stroke-width="1"/>
<line x1="55.8" y1="213.1" x2="55.8" y2="226.6" stroke="#333" stroke-width="0.9"/>
<line x1="53.599999999999994" y1="213.1" x2="58.0" y2="213.1" stroke="#333" stroke-width="0.9"/>
<rect x="52.5" y="226.5" width="6.600000000000001" height="93.0" fill="#333" stroke="#333" stroke-width="1"/>
<rect x="73.3" y="316.2" width="6.900000000000006" height="3.3000000000000114" fill="#fff" stroke="#333" stroke-width="1"/>
<line x1="87.8" y1="197.4" x2="87.8" y2="207.5" stroke="#333" stroke-width="0.9"/>
<line x1="85.6" y1="197.4" x2="90.0" y2="197.4" stroke="#333" stroke-width="0.9"/>
<rect x="84.4" y="207.6" width="6.799999999999997" height="111.9" fill="#333" stroke="#333" stroke-width="1"/>
<line x1="112.4" y1="308" x2="112.4" y2="310.6" stroke="#333" stroke-width="0.9"/>
<line x1="110.0" y1="308" x2="114.80000000000001" y2="308" stroke="#333" stroke-width="0.9"/>
<rect x="108.5" y="310.4" width="7.700000000000003" height="9.100000000000023" fill="#fff" stroke="#333" stroke-width="1"/>
<line x1="123.4" y1="285.4" x2="123.4" y2="289" stroke="#333" stroke-width="0.9"/>
<line x1="121.10000000000001" y1="285.4" x2="125.7" y2="285.4" stroke="#333" stroke-width="0.9"/>
<rect x="120" y="289" width="6.799999999999997" height="30.5" fill="#333" stroke="#333" stroke-width="1"/>
<rect x="33.8" y="181" width="7.8" height="7.3" fill="#333" stroke="#222" stroke-width="1"/>
<rect x="33.8" y="192.3" width="7.8" height="7.2" fill="#fff" stroke="#444" stroke-width="1"/>
<text class="ls" x="47" y="188.2" font-size="10" font-weight="bold" text-anchor="start" fill="#1a1a1a" textLength="61" lengthAdjust="spacingAndGlyphs">K562-LSECtin</text>
<text class="ls" x="47" y="200.5" font-size="10" font-weight="bold" text-anchor="start" fill="#1a1a1a" textLength="20.8" lengthAdjust="spacingAndGlyphs">K562</text>
<text class="ls" x="41.3" y="330.6" font-size="11" font-weight="bold" text-anchor="start" fill="#1a1a1a" textLength="17.6" lengthAdjust="spacingAndGlyphs">VSV</text>
<text class="ls" x="70.6" y="330.6" font-size="11" font-weight="bold" text-anchor="start" fill="#1a1a1a" textLength="22.8" lengthAdjust="spacingAndGlyphs">Ebola</text>
<text class="ls" x="100" y="330.6" font-size="11" font-weight="bold" text-anchor="start" fill="#1a1a1a" textLength="35.6" lengthAdjust="spacingAndGlyphs">Marburg</text>
<!-- Panel D -->
<text class="lsans" x="162" y="171.4" font-size="17.3" font-weight="bold" text-anchor="start" fill="#000">D</text>
<rect x="185.3" y="176.8" width="130.89999999999998" height="143.2" fill="#fff" stroke="#3a3a3a" stroke-width="1"/>
<line x1="181.9" y1="288.34999999999997" x2="185.3" y2="288.34999999999997" stroke="#3a3a3a" stroke-width="1"/>
<text class="ls" x="180.6" y="291.84999999999997" font-size="10.5" font-weight="bold" text-anchor="end" fill="#1a1a1a">1</text>
<line x1="181.9" y1="256.79999999999995" x2="185.3" y2="256.79999999999995" stroke="#3a3a3a" stroke-width="1"/>
<text class="ls" x="180.6" y="260.29999999999995" font-size="10.5" font-weight="bold" text-anchor="end" fill="#1a1a1a">2</text>
<line x1="181.9" y1="225.25" x2="185.3" y2="225.25" stroke="#3a3a3a" stroke-width="1"/>
<text class="ls" x="180.6" y="228.75" font-size="10.5" font-weight="bold" text-anchor="end" fill="#1a1a1a">3</text>
<line x1="181.9" y1="193.70000000000002" x2="185.3" y2="193.70000000000002" stroke="#3a3a3a" stroke-width="1"/>
<text class="ls" x="180.6" y="197.20000000000002" font-size="10.5" font-weight="bold" text-anchor="end" fill="#1a1a1a">4</text>
<text class="ls" transform="translate(169.2,242.4) rotate(-90)" font-size="10" font-weight="bold" text-anchor="middle" fill="#1a1a1a" textLength="49" lengthAdjust="spacingAndGlyphs">RLU ( x 10<tspan font-size="6.5" dy="-3.4">5</tspan><tspan dy="3.4">)</tspan></text>
<rect x="198.4" y="295" width="7.599999999999994" height="25" fill="#e2e2e2" stroke="#333" stroke-width="1"/>
<rect x="210.3" y="287.2" width="6.699999999999989" height="32.80000000000001" fill="#565656" stroke="#333" stroke-width="1"/>
<rect x="221.6" y="287.2" width="7.400000000000006" height="32.80000000000001" fill="#fff" stroke="#333" stroke-width="1"/>
<rect x="233.2" y="259.4" width="7.200000000000017" height="60.60000000000002" fill="url(#hatch)" stroke="#333" stroke-width="1"/>
<rect x="264.4" y="205" width="7.400000000000034" height="115" fill="#e2e2e2" stroke="#333" stroke-width="1"/>
<rect x="275.4" y="303.8" width="6.800000000000011" height="16.19999999999999" fill="#565656" stroke="#333" stroke-width="1"/>
<rect x="287.4" y="179.6" width="7.2000000000000455" height="140.4" fill="#fff" stroke="#333" stroke-width="1"/>
<rect x="298.6" y="273.6" width="7.399999999999977" height="46.39999999999998" fill="url(#hatch)" stroke="#333" stroke-width="1"/>
<rect x="190.4" y="182.6" width="7.6" height="7.4" fill="#e2e2e2" stroke="#6a6a6a" stroke-width="1"/>
<rect x="190.4" y="194.6" width="7.6" height="7.4" fill="#565656" stroke="#333" stroke-width="1"/>
<rect x="190.4" y="206" width="7.6" height="7.4" fill="#fff" stroke="#6a6a6a" stroke-width="1"/>
<rect x="190.4" y="217.8" width="7.6" height="7.4" fill="url(#hatch)" stroke="#333" stroke-width="1"/>
<text class="ls" x="202.4" y="187.2" font-size="9.8" font-weight="bold" text-anchor="start" fill="#1a1a1a" textLength="55.2" lengthAdjust="spacingAndGlyphs">Preimm. 1:20</text>
<text class="ls" x="202.4" y="200.8" font-size="9.8" font-weight="bold" text-anchor="start" fill="#1a1a1a" textLength="46.2" lengthAdjust="spacingAndGlyphs">ADS-1 1:20</text>
<text class="ls" x="202.4" y="211.2" font-size="9.8" font-weight="bold" text-anchor="start" fill="#1a1a1a" textLength="59.4" lengthAdjust="spacingAndGlyphs">Preimm. 1:100</text>
<text class="ls" x="202.4" y="224.6" font-size="9.8" font-weight="bold" text-anchor="start" fill="#1a1a1a" textLength="51.4" lengthAdjust="spacingAndGlyphs">ADS-1 1:100</text>
<text class="ls" x="198" y="330.3" font-size="10.8" font-weight="bold" text-anchor="start" fill="#1a1a1a" textLength="46" lengthAdjust="spacingAndGlyphs">K562-Mock</text>
<text class="ls" x="259.2" y="330.3" font-size="10.8" font-weight="bold" text-anchor="start" fill="#1a1a1a" textLength="60" lengthAdjust="spacingAndGlyphs">K562-LSECtin</text>
<!-- Panel E -->
<text class="lsans" x="333.2" y="173.8" font-size="17.3" font-weight="bold" text-anchor="start" fill="#000">E</text>
<rect x="368.2" y="168.2" width="48.2" height="34.4" fill="#fdfdfd" stroke="#484848" stroke-width="1"/>
<line x1="370.2" y1="179.0" x2="414.4" y2="179.0" stroke="#dedede" stroke-width="0.8"/>
<line x1="370.2" y1="191.0" x2="414.4" y2="191.0" stroke="#dedede" stroke-width="0.8"/>
<path d="M395.59999999999997,179.2 l1.2,1 l1.2,-0.3 l1,0" fill="none" stroke="#b0b0b0" stroke-width="0.9"/>
<path d="M402.59999999999997,191.2 l1.2,1 l1.2,-0.3 l1,0" fill="none" stroke="#b0b0b0" stroke-width="0.9"/>
<polygon points="369,201.1 369.06,199.96 368.93,199.5 368.93,198.1 369.61,196.64 369.46,196.23 369.21,194.97 369.6,194.1 370.02,193.06 370.32,191.76 370.28,190.72 370.74,190.63 371.08,189.48 371.3,188.2 371.41,187.53 371.42,186.08 371.99,185.61 372.01,183.96 372.1,183.15 372.3,182.87 372.44,182.01 373.08,180.15 372.94,179.68 372.89,178.66 373.4,177.8 373.97,176.44 374.06,175.53 374.35,175.45 374.4,173.54 374.63,173.2 374.88,171.77 375.5,171.3 375.75,172.69 375.96,173.05 376.36,173.64 376.58,174.65 376.86,176.45 376.75,176.93 377.3,177.8 377.54,178.3 377.49,180.12 378.14,180.05 378.12,181.86 377.98,182.37 378.02,182.99 378.6,184.13 378.84,184.47 378.73,186.21 379.0,186.7 379.24,187.54 379.3,189.01 379.59,188.84 379.92,190.07 379.86,190.83 380.04,191.85 379.99,193.07 380.18,194.13 380.31,195.02 380.8,195.6 381.36,196.48 381.66,197.08 382.04,198.16 382.06,199.63 382.6,200.0 383.43,200.41 384.4,201.1 385.54,200.96 386.31,200.74 387.33,200.83 387.7,201.1 388.68,201.1 389.8,201.1 390.82,200.37 391.2,199.4 391.63,199.77 392.7,201.1" fill="#c4c4c4" stroke="#a2a2a2" stroke-width="0.6" stroke-linejoin="round"/>
<polyline points="369,201.1 369.06,199.96 368.93,199.5 368.93,198.1 369.61,196.64 369.46,196.23 369.21,194.97 369.6,194.1 370.02,193.06 370.32,191.76 370.28,190.72 370.74,190.63 371.08,189.48 371.3,188.2 371.41,187.53 371.42,186.08 371.99,185.61 372.01,183.96 372.1,183.15 372.3,182.87 372.44,182.01 373.08,180.15 372.94,179.68 372.89,178.66 373.4,177.8 373.97,176.44 374.06,175.53 374.35,175.45 374.4,173.54 374.63,173.2 374.88,171.77 375.5,171.3 375.75,172.69 375.96,173.05 376.36,173.64 376.58,174.65 376.86,176.45 376.75,176.93 377.3,177.8 377.54,178.3 377.49,180.12 378.14,180.05 378.12,181.86 377.98,182.37 378.02,182.99 378.6,184.13 378.84,184.47 378.73,186.21 379.0,186.7 379.24,187.54 379.3,189.01 379.59,188.84 379.92,190.07 379.86,190.83 380.04,191.85 379.99,193.07 380.18,194.13 380.31,195.02 380.8,195.6 381.36,196.48 381.66,197.08 382.04,198.16 382.06,199.63 382.6,200.0 383.43,200.41 384.4,201.1 385.54,200.96 386.31,200.74 387.33,200.83 387.7,201.1 388.68,201.1 389.8,201.1 390.82,200.37 391.2,199.4 391.63,199.77 392.7,201.1" fill="none" stroke="#6e6e6e" stroke-width="0.7" stroke-dasharray="1.3 1.5" stroke-linejoin="round"/>
<rect x="419.6" y="168.2" width="48.1" height="34.4" fill="#fdfdfd" stroke="#484848" stroke-width="1"/>
<line x1="421.6" y1="179.0" x2="465.70000000000005" y2="179.0" stroke="#dedede" stroke-width="0.8"/>
<line x1="421.6" y1="191.0" x2="465.70000000000005" y2="191.0" stroke="#dedede" stroke-width="0.8"/>
<path d="M447.0,179.2 l1.2,1 l1.2,-0.3 l1,0" fill="none" stroke="#b0b0b0" stroke-width="0.9"/>
<path d="M454.0,191.2 l1.2,1 l1.2,-0.3 l1,0" fill="none" stroke="#b0b0b0" stroke-width="0.9"/>
<polygon points="420.2,201.1 420.33,200.02 420.42,198.78 420.66,198.46 420.64,196.73 420.64,195.91 420.55,195.6 420.8,194.1 421.32,192.67 421.41,192.36 421.28,191.09 421.67,190.35 421.86,189.65 421.68,188.84 422.43,188.14 422.3,186.7 422.59,185.27 422.4,184.45 423.23,183.71 423.06,183.44 423.24,182.13 423.53,180.67 423.84,180.6 424.0,179.3 424.07,178.03 424.54,176.85 424.9,176.74 425.3,175.45 425.73,174.06 425.84,173.33 426.1,172.5 426.92,171.47 427.6,171.3 428.08,171.71 427.98,173.34 428.8,173.78 428.74,174.42 428.95,175.68 429.4,176.4 429.47,176.96 429.94,178.0 430.35,179.7 430.72,180.31 430.72,181.24 431.1,182.3 431.25,183.41 431.95,183.86 432.26,184.88 433.07,185.7 433.5,186.7 434.09,187.87 434.03,188.69 434.82,189.67 434.97,190.15 435.24,191.57 435.6,192.6 435.95,193.41 436.5,194.44 436.85,194.93 437.24,196.72 437.7,197.1 438.41,197.49 438.91,198.94 440.0,199.8 440.6,199.68 441.54,200.4 443.03,200.76 443.6,201.1" fill="#c4c4c4" stroke="#a2a2a2" stroke-width="0.6" stroke-linejoin="round"/>
<polyline points="420.2,201.1 420.33,200.02 420.42,198.78 420.66,198.46 420.64,196.73 420.64,195.91 420.55,195.6 420.8,194.1 421.32,192.67 421.41,192.36 421.28,191.09 421.67,190.35 421.86,189.65 421.68,188.84 422.43,188.14 422.3,186.7 422.59,185.27 422.4,184.45 423.23,183.71 423.06,183.44 423.24,182.13 423.53,180.67 423.84,180.6 424.0,179.3 424.07,178.03 424.54,176.85 424.9,176.74 425.3,175.45 425.73,174.06 425.84,173.33 426.1,172.5 426.92,171.47 427.6,171.3 428.08,171.71 427.98,173.34 428.8,173.78 428.74,174.42 428.95,175.68 429.4,176.4 429.47,176.96 429.94,178.0 430.35,179.7 430.72,180.31 430.72,181.24 431.1,182.3 431.25,183.41 431.95,183.86 432.26,184.88 433.07,185.7 433.5,186.7 434.09,187.87 434.03,188.69 434.82,189.67 434.97,190.15 435.24,191.57 435.6,192.6 435.95,193.41 436.5,194.44 436.85,194.93 437.24,196.72 437.7,197.1 438.41,197.49 438.91,198.94 440.0,199.8 440.6,199.68 441.54,200.4 443.03,200.76 443.6,201.1" fill="none" stroke="#6e6e6e" stroke-width="0.7" stroke-dasharray="1.3 1.5" stroke-linejoin="round"/>
<rect x="469.9" y="168.2" width="48.2" height="34.4" fill="#fdfdfd" stroke="#484848" stroke-width="1"/>
<line x1="471.9" y1="179.0" x2="516.1" y2="179.0" stroke="#dedede" stroke-width="0.8"/>
<line x1="471.9" y1="191.0" x2="516.1" y2="191.0" stroke="#dedede" stroke-width="0.8"/>
<path d="M497.29999999999995,179.2 l1.2,1 l1.2,-0.3 l1,0" fill="none" stroke="#b0b0b0" stroke-width="0.9"/>
<path d="M504.29999999999995,191.2 l1.2,1 l1.2,-0.3 l1,0" fill="none" stroke="#b0b0b0" stroke-width="0.9"/>
<polygon points="489.8,201.1 490.07,200.17 490.68,199.06 490.71,198.2 491.0,197.1 490.93,196.19 491.36,195.57 491.14,194.11 491.28,193.74 491.82,191.97 492.14,192.06 492.06,190.75 492.1,189.7 492.01,188.18 492.39,187.24 492.3,186.45 492.32,185.7 492.73,185.13 492.91,183.92 493.03,182.96 493.14,181.54 493.3,180.8 493.82,180.42 493.9,179.18 493.74,177.73 493.91,176.63 494.41,176.07 494.65,175.13 494.91,174.71 494.8,173.4 495.22,172.03 496.3,171.3 496.95,172.17 497.37,172.99 497.14,174.14 497.8,174.9 498.12,175.64 497.79,176.69 498.51,178.15 498.08,178.58 498.2,179.36 498.8,180.48 498.77,181.76 498.66,183.07 499.0,183.8 498.85,184.94 498.92,185.67 499.08,186.48 499.67,188.04 499.32,189.11 499.34,189.55 499.86,190.8 499.45,192.16 499.8,192.6 499.81,193.33 500.38,194.41 500.27,195.13 500.33,196.69 500.63,197.71 501.0,198.6 501.52,199.38 502.5,200.25 502.8,201.1" fill="#c4c4c4" stroke="#a2a2a2" stroke-width="0.6" stroke-linejoin="round"/>
<polyline points="489.8,201.1 490.07,200.17 490.68,199.06 490.71,198.2 491.0,197.1 490.93,196.19 491.36,195.57 491.14,194.11 491.28,193.74 491.82,191.97 492.14,192.06 492.06,190.75 492.1,189.7 492.01,188.18 492.39,187.24 492.3,186.45 492.32,185.7 492.73,185.13 492.91,183.92 493.03,182.96 493.14,181.54 493.3,180.8 493.82,180.42 493.9,179.18 493.74,177.73 493.91,176.63 494.41,176.07 494.65,175.13 494.91,174.71 494.8,173.4 495.22,172.03 496.3,171.3 496.95,172.17 497.37,172.99 497.14,174.14 497.8,174.9 498.12,175.64 497.79,176.69 498.51,178.15 498.08,178.58 498.2,179.36 498.8,180.48 498.77,181.76 498.66,183.07 499.0,183.8 498.85,184.94 498.92,185.67 499.08,186.48 499.67,188.04 499.32,189.11 499.34,189.55 499.86,190.8 499.45,192.16 499.8,192.6 499.81,193.33 500.38,194.41 500.27,195.13 500.33,196.69 500.63,197.71 501.0,198.6 501.52,199.38 502.5,200.25 502.8,201.1" fill="none" stroke="#6e6e6e" stroke-width="0.7" stroke-dasharray="1.3 1.5" stroke-linejoin="round"/>
<line x1="367" y1="205.2" x2="517.6" y2="205.2" stroke="#666" stroke-width="1"/>
<text class="ls" x="397" y="178.4" font-size="10.5" font-weight="bold" text-anchor="start" fill="#1a1a1a" textLength="15.2" lengthAdjust="spacingAndGlyphs">X63</text>
<text class="ls" x="435.6" y="178.4" font-size="10.5" font-weight="bold" text-anchor="start" fill="#1a1a1a" textLength="30" lengthAdjust="spacingAndGlyphs">SOTO1</text>
<text class="ls" x="495" y="178.4" font-size="10.5" font-weight="bold" text-anchor="start" fill="#1a1a1a" textLength="19" lengthAdjust="spacingAndGlyphs">MR1</text>
<text class="ls" x="429" y="215.4" font-size="10.5" font-weight="bold" text-anchor="start" fill="#1a1a1a" textLength="29.2" lengthAdjust="spacingAndGlyphs">MDDC</text>
<rect x="363.8" y="225.4" width="151.59999999999997" height="85.29999999999998" fill="#fff" stroke="#3a3a3a" stroke-width="1"/>
<line x1="360.8" y1="295.26" x2="363.8" y2="295.26" stroke="#3a3a3a" stroke-width="1"/>
<text class="ls" x="359.6" y="298.76" font-size="10.5" font-weight="bold" text-anchor="end" fill="#1a1a1a" textLength="8.6" lengthAdjust="spacingAndGlyphs">20</text>
<line x1="360.8" y1="279.91999999999996" x2="363.8" y2="279.91999999999996" stroke="#3a3a3a" stroke-width="1"/>
<text class="ls" x="359.6" y="283.41999999999996" font-size="10.5" font-weight="bold" text-anchor="end" fill="#1a1a1a" textLength="8.6" lengthAdjust="spacingAndGlyphs">40</text>
<line x1="360.8" y1="264.58" x2="363.8" y2="264.58" stroke="#3a3a3a" stroke-width="1"/>
<text class="ls" x="359.6" y="268.08" font-size="10.5" font-weight="bold" text-anchor="end" fill="#1a1a1a" textLength="8.6" lengthAdjust="spacingAndGlyphs">60</text>
<line x1="360.8" y1="249.23999999999998" x2="363.8" y2="249.23999999999998" stroke="#3a3a3a" stroke-width="1"/>
<text class="ls" x="359.6" y="252.73999999999998" font-size="10.5" font-weight="bold" text-anchor="end" fill="#1a1a1a" textLength="8.6" lengthAdjust="spacingAndGlyphs">80</text>
<line x1="360.8" y1="233.9" x2="363.8" y2="233.9" stroke="#3a3a3a" stroke-width="1"/>
<text class="ls" x="359.6" y="237.4" font-size="10.5" font-weight="bold" text-anchor="end" fill="#1a1a1a" textLength="12.4" lengthAdjust="spacingAndGlyphs">100</text>
<text class="ls" transform="translate(342.6,268.2) rotate(-90)" font-size="10.5" font-weight="bold" text-anchor="middle" fill="#1a1a1a" textLength="85.5" lengthAdjust="spacingAndGlyphs">Relative fluorescence</text>
<rect x="372.4" y="232.4" width="10.200000000000045" height="78.29999999999998" fill="#cfcfcf" stroke="#3a3a3a" stroke-width="1"/>
<rect x="382.6" y="233.6" width="11.0" height="77.1" fill="#555" stroke="#3a3a3a" stroke-width="1"/>
<rect x="408" y="284.6" width="11" height="26.099999999999966" fill="#cfcfcf" stroke="#3a3a3a" stroke-width="1"/>
<rect x="419" y="307.4" width="11.399999999999977" height="3.3000000000000114" fill="#555" stroke="#3a3a3a" stroke-width="1"/>
<rect x="446" y="276.4" width="10.399999999999977" height="34.30000000000001" fill="#cfcfcf" stroke="#3a3a3a" stroke-width="1"/>
<rect x="456.4" y="244" width="10.800000000000011" height="66.69999999999999" fill="#555" stroke="#3a3a3a" stroke-width="1"/>
<rect x="482.4" y="305.2" width="10.400000000000034" height="5.5" fill="#cfcfcf" stroke="#3a3a3a" stroke-width="1"/>
<rect x="492.8" y="308.4" width="11.199999999999989" height="2.3000000000000114" fill="#555" stroke="#3a3a3a" stroke-width="1"/>
<rect x="405.6" y="233" width="8" height="7.2" fill="#cfcfcf" stroke="#444" stroke-width="1"/>
<rect x="405.6" y="245" width="8" height="7.2" fill="#555" stroke="#333" stroke-width="1"/>
<text class="ls" x="416.4" y="240" font-size="10.5" font-weight="bold" text-anchor="start" fill="#1a1a1a" textLength="15" lengthAdjust="spacingAndGlyphs">GP1</text>
<text class="ls" x="416.4" y="251.6" font-size="10.5" font-weight="bold" text-anchor="start" fill="#1a1a1a" textLength="22.6" lengthAdjust="spacingAndGlyphs">gp120</text>
<text class="ls" x="366" y="320.6" font-size="10.5" font-weight="bold" text-anchor="start" fill="#1a1a1a" textLength="33" lengthAdjust="spacingAndGlyphs">Preimm</text>
<text class="ls" x="409.6" y="320.6" font-size="10.5" font-weight="bold" text-anchor="start" fill="#1a1a1a" textLength="18.8" lengthAdjust="spacingAndGlyphs">MR1</text>
<text class="ls" x="446" y="320.6" font-size="10.5" font-weight="bold" text-anchor="start" fill="#1a1a1a" textLength="22.8" lengthAdjust="spacingAndGlyphs">ADS1</text>
<text class="ls" x="472.4" y="320.6" font-size="10.5" font-weight="bold" text-anchor="start" fill="#1a1a1a" textLength="45.8" lengthAdjust="spacingAndGlyphs">ADS1/MR1</text>
</svg>
</body></html>
